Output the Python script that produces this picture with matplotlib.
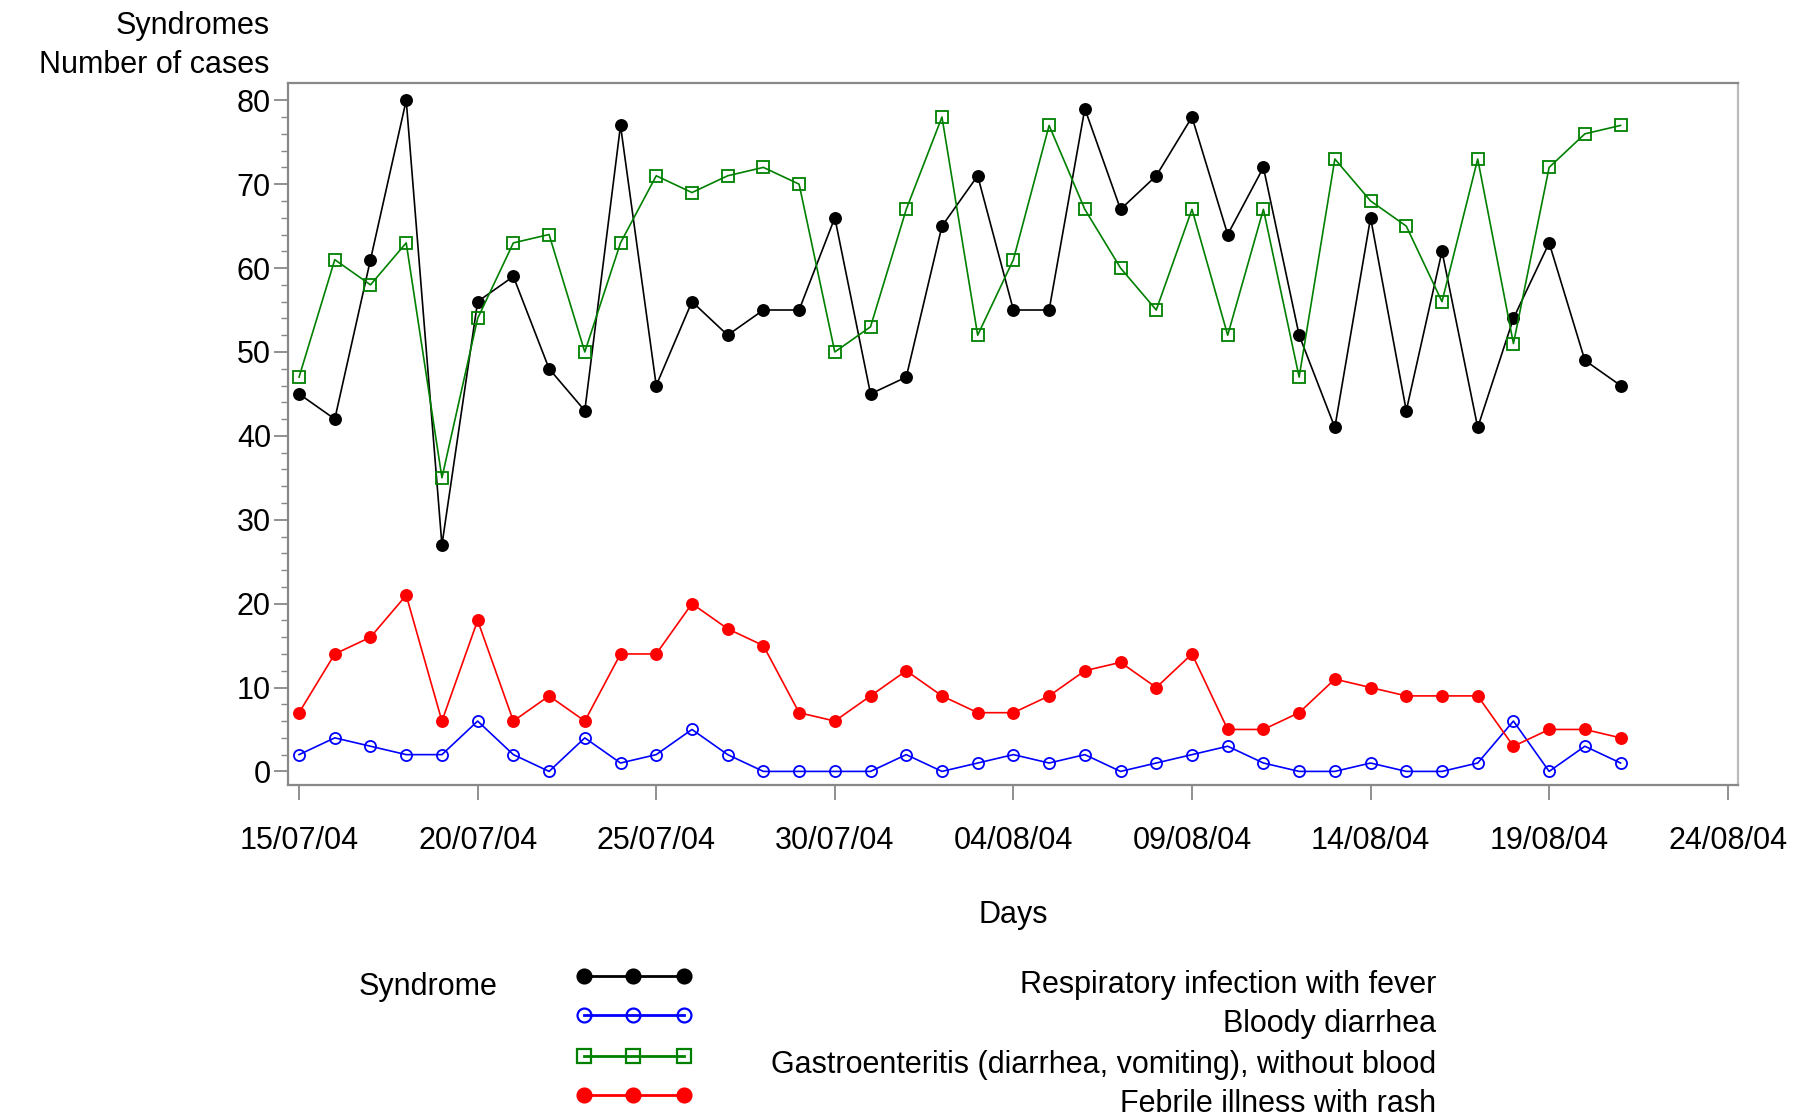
#!/usr/bin/env python3
# -*- coding: utf-8 -*-
"""
Daily syndrome counts, 15/07/04 - 21/08/04, saved to out.png.
"""

import numpy as np
import pandas as pd
import matplotlib
matplotlib.use('Agg')
import matplotlib.pyplot as plt
import matplotlib.dates as mdates
from matplotlib.lines import Line2D

plt.rcParams['font.family'] = ['Liberation Sans', 'DejaVu Sans']

days = pd.date_range('2004-07-15', '2004-08-21', freq='D')
tick_days = pd.date_range('2004-07-15', '2004-08-24', freq='5D')

respiratory = [45, 42, 61, 80, 27, 56, 59, 48, 43, 77, 46, 56, 52, 55, 55, 66, 45, 47, 65,
               71, 55, 55, 79, 67, 71, 78, 64, 72, 52, 41, 66, 43, 62, 41, 54, 63, 49, 46]
bloody = [2, 4, 3, 2, 2, 6, 2, 0, 4, 1, 2, 5, 2, 0, 0, 0, 0, 2, 0,
          1, 2, 1, 2, 0, 1, 2, 3, 1, 0, 0, 1, 0, 0, 1, 6, 0, 3, 1]
gastro = [47, 61, 58, 63, 35, 54, 63, 64, 50, 63, 71, 69, 71, 72, 70, 50, 53, 67, 78,
          52, 61, 77, 67, 60, 55, 67, 52, 67, 47, 73, 68, 65, 56, 73, 51, 72, 76, 77]
febrile = [7, 14, 16, 21, 6, 18, 6, 9, 6, 14, 14, 20, 17, 15, 7, 6, 9, 12, 9,
           7, 7, 9, 12, 13, 10, 14, 5, 5, 7, 11, 10, 9, 9, 9, 3, 5, 5, 4]

series = [
    ('Respiratory infection with fever', respiratory, 'black', 'o', 'full'),
    ('Bloody diarrhea', bloody, 'blue', 'o', 'none'),
    ('Gastroenteritis (diarrhea, vomiting), without blood', gastro, 'green', 's', 'none'),
    ('Febrile illness with rash', febrile, 'red', 'o', 'full'),
]

FS = 22

fig = plt.figure(figsize=(18.09, 11.17), dpi=100)
ax = fig.add_axes([0.159, 0.297, 0.802, 0.629])

for name, vals, col, mk, fill in series:
    ax.plot(days, vals, color=col, linewidth=1.2, marker=mk, markersize=8,
            fillstyle=fill, markeredgewidth=1.3)

start = days[0]
ax.set_xlim(start - pd.Timedelta(days=0.32), start + pd.Timedelta(days=40.3))
ax.set_ylim(-1.65, 82.1)

ax.set_xticks(tick_days)
ax.xaxis.set_major_formatter(mdates.DateFormatter('%d/%m/%y'))
ax.set_yticks(np.arange(0, 81, 10))
ax.set_yticks(np.arange(0, 81, 2), minor=True)

ax.tick_params(axis='x', direction='out', length=11, width=1.3, color='#888888',
               labelsize=FS, pad=18)
ax.tick_params(axis='y', which='major', direction='out', length=10, width=1.3,
               color='#888888', labelsize=FS, pad=2)
ax.tick_params(axis='y', which='minor', direction='out', length=5, width=1.0,
               color='#888888')

for side in ['left', 'bottom', 'top']:
    ax.spines[side].set_color('#888888')
    ax.spines[side].set_linewidth(1.6)
ax.spines['right'].set_color('#bbbbbb')
ax.spines['right'].set_linewidth(1.6)

ax.set_xlabel('Days', fontsize=FS, labelpad=32)

fig.text(0.149, 0.977, 'Syndromes', ha='right', va='center', fontsize=FS)
fig.text(0.149, 0.942, 'Number of cases', ha='right', va='center', fontsize=FS)

# legend drawn by hand so the labels can be right aligned
fig.text(0.198, 0.116, 'Syndrome', ha='left', va='center', fontsize=FS)
row_y = [0.126, 0.091, 0.055, 0.020]
for (name, vals, col, mk, fill), y in zip(series, row_y):
    fig.add_artist(Line2D([0.323, 0.350, 0.378], [y, y, y], transform=fig.transFigure,
                          color=col, linewidth=2, marker=mk, markersize=10,
                          fillstyle=fill, markeredgewidth=1.6))
    fig.text(0.794, y - 0.008, name, ha='right', va='center', fontsize=FS)

fig.savefig('out.png', dpi=100)
plt.close(fig)
